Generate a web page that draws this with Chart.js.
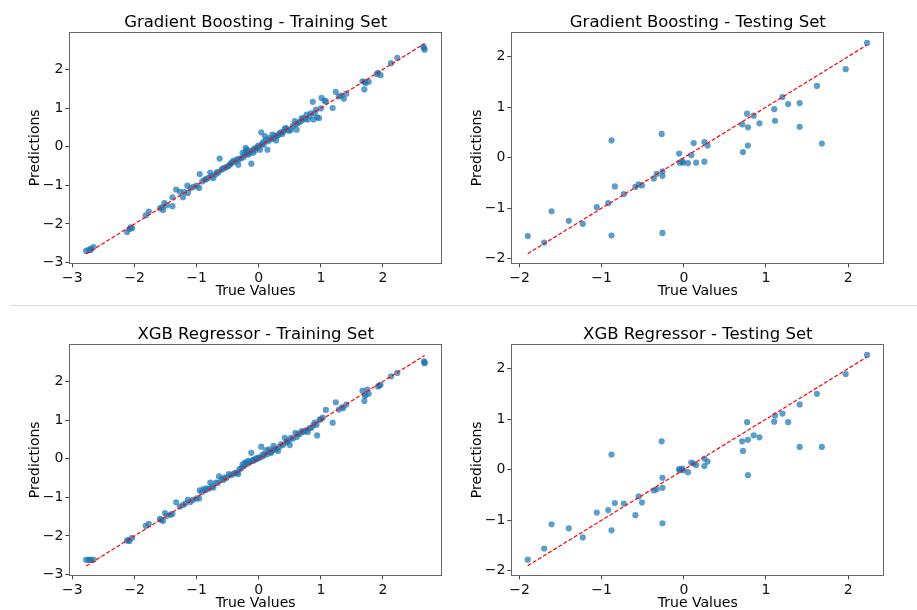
<!DOCTYPE html>
<html>
<head>
<meta charset="utf-8">
<script src="https://cdn.jsdelivr.net/npm/chart.js@4.4.1/dist/chart.umd.min.js"></script>
<style>
  html, body { margin:0; padding:0; background:#fff; width:917px; height:610px; overflow:hidden; }
  .pan { position:absolute; }
  #sep { position:absolute; left:10px; width:907px; top:305px; height:1px; background:#dedede; }
</style>
</head>
<body>
<canvas id="c1" class="pan" width="458" height="300" style="left:0px;top:0px;"></canvas>
<canvas id="c2" class="pan" width="459" height="300" style="left:458px;top:0px;"></canvas>
<div id="sep"></div>
<canvas id="c3" class="pan" width="458" height="300" style="left:0px;top:311.6px;"></canvas>
<canvas id="c4" class="pan" width="459" height="300" style="left:458px;top:311.6px;"></canvas>
<script>
// ---------------- DATA ----------------
const titles = [
  'Gradient Boosting - Training Set',
  'Gradient Boosting - Testing Set',
  'XGB Regressor - Training Set',
  'XGB Regressor - Testing Set'
];
const xLabel = 'True Values';
const yLabel = 'Predictions';

const trainTicks = [-3, -2, -1, 0, 1, 2];
const testTicks = [-2, -1, 0, 1, 2];
const trainXRange = [-3.05, 2.95];
const trainYRange = [-3.02, 2.96];
const testXRange = [-2.10, 2.44];
const testYRange = [-2.09, 2.48];

const gbTrainTrue = [-2.78,-2.74,-2.70,-2.66,-2.12,-2.08,-2.04,-1.82,-1.77,-1.59,-1.54,-1.52,-1.48,-1.39,-1.39,-1.33,-1.27,-1.22,-1.15,-1.14,-1.10,
  -1.00,-0.96,-0.95,-0.91,-0.87,-0.81,-0.78,-0.73,-0.69,-0.65,-0.63,-0.60,-0.55,-0.49,-0.47,-0.43,-0.41,
  -0.33,-0.32,-0.26,-0.25,-0.21,-0.21,-0.19,-0.17,-0.14,-0.12,-0.09,-0.06,-0.04,-0.01,
  0.02,0.04,0.07,0.10,0.12,0.14,0.18,0.22,0.26,0.28,
  0.34,0.38,0.42,0.44,0.49,0.52,0.58,0.61,0.63,0.69,0.72,0.77,0.79,0.82,0.87,0.88,0.92,0.94,0.97,
  1.01,1.06,1.08,1.19,1.24,1.29,1.37,1.41,1.67,1.70,1.72,1.77,1.92,1.96,2.13,2.23,2.65,2.67,
  -2.71,-2.06,-1.56,-1.20,-1.05,-0.85,-0.76,-0.67,-0.58,-0.52,-0.45,-0.38,-0.35,-0.29,-0.23,-0.18,-0.15,-0.10,-0.07,0.00,
  0.05,0.08,0.15,0.20,0.24,0.30,0.32,0.36,0.40,0.46,0.55,0.60,0.66,0.70,0.75,0.84,0.90,1.00,1.33,1.71,1.90,2.66];
const gbTrainPred = [-2.70,-2.67,-2.64,-2.60,-2.21,-2.13,-2.11,-1.78,-1.68,-1.60,-1.64,-1.46,-1.52,-1.54,-1.31,-1.11,-1.17,-1.31,-1.01,-1.20,-1.08,
  -1.01,-1.07,-0.71,-0.90,-0.86,-0.81,-0.67,-0.81,-0.71,-0.67,-0.31,-0.60,-0.55,-0.51,-0.47,-0.41,-0.36,
  -0.47,-0.33,-0.16,-0.28,-0.03,-0.12,-0.08,-0.21,-0.12,-0.44,-0.16,-0.10,-0.03,0.03,
  -0.08,0.37,0.12,0.27,0.18,-0.08,0.22,0.31,0.27,0.16,
  0.35,0.33,0.47,0.48,0.41,0.44,0.66,0.44,0.61,0.73,0.74,0.83,0.70,0.79,1.16,0.70,0.96,0.76,0.74,
  1.26,1.19,1.17,1.00,1.42,1.30,1.24,1.37,1.69,1.48,1.65,1.68,1.91,1.85,2.16,2.30,2.59,2.51,
  -2.68,-2.09,-1.57,-1.18,-1.04,-0.84,-0.76,-0.66,-0.57,-0.53,-0.44,-0.39,-0.33,-0.30,-0.22,-0.17,-0.17,-0.09,-0.05,-0.01,
  0.06,0.05,0.14,0.19,0.22,0.29,0.30,0.37,0.39,0.44,0.54,0.58,0.64,0.68,0.72,0.86,0.87,0.99,1.32,1.68,1.88,2.55];

const xgbTrainTrue = [-2.78,-2.74,-2.70,-2.66,-2.12,-2.08,-2.04,-1.82,-1.77,-1.59,-1.54,-1.51,-1.48,-1.39,-1.33,-1.27,-1.22,-1.14,-1.10,
  -1.00,-0.96,-0.95,-0.89,-0.84,-0.78,-0.73,-0.69,-0.64,-0.60,-0.55,-0.48,-0.41,-0.33,-0.31,-0.26,-0.22,-0.20,-0.17,-0.12,
  -0.09,-0.05,-0.01,0.04,0.07,0.12,0.17,0.20,0.24,0.28,0.31,0.36,0.42,0.46,0.50,0.52,0.59,0.63,0.69,0.74,0.79,0.85,0.90,
  0.93,0.94,0.98,1.03,1.08,1.19,1.24,1.29,1.36,1.41,1.67,1.70,1.72,1.75,1.77,1.92,1.96,2.13,2.23,2.66,2.67,
  -2.72,-2.10,-1.57,-1.42,-1.18,-1.06,-0.92,-0.86,-0.80,-0.75,-0.66,-0.57,-0.52,-0.45,-0.38,-0.35,-0.28,-0.24,-0.18,-0.14,
  -0.10,-0.07,-0.03,0.01,0.05,0.09,0.14,0.18,0.22,0.26,0.33,0.39,0.44,0.48,0.55,0.61,0.66,0.71,0.77,0.82,0.88,1.00,1.34,1.71,1.94,2.67];
const xgbTrainPred = [-2.62,-2.62,-2.62,-2.62,-2.12,-2.13,-2.05,-1.74,-1.69,-1.56,-1.61,-1.41,-1.48,-1.43,-1.13,-1.24,-1.20,-1.07,-1.12,
  -1.03,-1.03,-0.82,-0.79,-0.77,-0.62,-0.75,-0.62,-0.46,-0.53,-0.49,-0.40,-0.40,-0.40,-0.27,-0.15,-0.10,-0.10,-0.06,0.15,
  -0.03,0.00,0.03,0.31,0.11,0.22,0.24,0.15,0.33,0.24,0.20,0.37,0.54,0.46,0.35,0.54,0.67,0.63,0.71,0.71,0.69,0.80,0.93,
  0.88,0.60,1.01,1.06,1.26,0.93,1.46,1.27,1.31,1.40,1.76,1.49,1.66,1.79,1.68,1.87,1.91,2.13,2.22,2.52,2.47,
  -2.62,-2.11,-1.59,-1.45,-1.16,-1.07,-0.87,-0.82,-0.78,-0.72,-0.63,-0.55,-0.50,-0.43,-0.37,-0.36,-0.25,-0.19,-0.13,-0.09,
  -0.06,-0.04,-0.01,0.02,0.05,0.09,0.12,0.17,0.21,0.25,0.30,0.35,0.42,0.45,0.52,0.56,0.64,0.69,0.74,0.79,0.87,1.02,1.33,1.62,1.89,2.49];

const testTrue = [-1.90,-1.70,-1.61,-1.40,-1.23,-1.06,-0.92,-0.88,-0.88,-0.84,-0.73,-0.59,-0.55,-0.51,-0.365,-0.33,-0.27,-0.26,-0.26,-0.26,
  -0.057,-0.05,-0.02,-0.01,0.05,0.09,0.12,0.15,0.25,0.25,0.29,0.71,0.72,0.77,0.78,0.78,0.85,0.92,1.10,1.11,1.20,1.27,1.41,1.41,1.62,1.68,1.97,2.23];
const gbTestPred = [-1.55,-1.68,-1.06,-1.25,-1.31,-0.98,-0.90,0.34,-1.54,-0.57,-0.72,-0.58,-0.53,-0.55,-0.41,-0.32,0.47,-0.27,-0.36,-1.49,
  0.08,-0.10,-0.07,-0.10,-0.11,0.05,0.29,-0.10,0.31,-0.08,0.24,0.66,0.11,0.87,0.60,0.24,0.83,0.68,0.96,0.73,1.20,1.06,1.08,0.61,1.42,0.28,1.75,2.27];
const xgbTestPred = [-1.78,-1.56,-1.08,-1.16,-1.34,-0.85,-0.80,0.30,-1.20,-0.66,-0.67,-0.90,-0.53,-0.65,-0.41,-0.39,0.56,-0.16,-0.36,-1.06,
  0.01,-0.01,0.02,-0.01,-0.05,0.14,0.12,0.09,0.22,0.07,0.16,0.56,0.37,0.94,0.59,-0.11,0.68,0.64,0.95,1.07,1.11,0.94,1.29,0.45,1.50,0.45,1.89,2.27];

// ---------------- RENDER ----------------
const FONT = '"DejaVu Sans", "Liberation Sans", sans-serif';
const pointColor = 'rgba(31,119,180,0.72)';

const frame = {
  id: 'frame',
  afterDatasetsDraw(chart) {
    const a = chart.chartArea, ctx = chart.ctx;
    ctx.save();
    ctx.strokeStyle = '#666';
    ctx.lineWidth = 1;
    ctx.strokeRect(Math.round(a.left) + 0.5, Math.round(a.top) + 0.5,
                   Math.round(a.right - a.left) - 1, Math.round(a.bottom - a.top));
    ctx.restore();
  }
};

function fmt(v) { return String(v).replace('-', '\u2212'); }

function makePanel(id, title, xs, ys, xr, yr, ticks, yW, padR, yTitlePad) {
  const pts = xs.map((x, i) => ({ x: x, y: ys[i] }));
  const lo = Math.min(...xs), hi = Math.max(...xs);
  new Chart(document.getElementById(id), {
    type: 'scatter',
    data: {
      datasets: [
        { data: [{ x: lo, y: lo }, { x: hi, y: hi }], showLine: true, borderColor: '#ff0000',
          borderWidth: 1.2, borderDash: [4, 2], pointRadius: 0, order: 0 },
        { data: pts, backgroundColor: pointColor, borderWidth: 0, pointRadius: 3.1, order: 1 }
      ]
    },
    options: {
      responsive: false, animation: false, devicePixelRatio: 1,
      layout: { padding: { left: 0, right: padR, top: 0, bottom: 0 } },
      plugins: {
        legend: { display: false }, tooltip: { enabled: false },
        title: { display: true, text: title, fullSize: false, color: '#000',
                 font: { family: FONT, size: 16.5, weight: 'normal' }, padding: { top: 12.5, bottom: 0 } }
      },
      scales: {
        x: {
          type: 'linear', min: xr[0], max: xr[1],
          afterBuildTicks: s => { s.ticks = ticks.filter(t => t >= xr[0] && t <= xr[1]).map(v => ({ value: v })); },
          afterFit: s => { s.height = 36.7; },
          ticks: { color: '#111', font: { family: FONT, size: 14 }, padding: 3, maxRotation: 0, autoSkip: false, callback: fmt },
          grid: { drawOnChartArea: false, drawTicks: true, tickLength: 4, color: '#444' },
          border: { display: false },
          title: { display: true, text: xLabel, color: '#000', font: { family: FONT, size: 14 }, padding: { top: 0, bottom: 0 } }
        },
        y: {
          type: 'linear', min: yr[0], max: yr[1],
          afterBuildTicks: s => { s.ticks = ticks.filter(t => t >= yr[0] && t <= yr[1]).map(v => ({ value: v })); },
          afterFit: s => { s.width = yW; },
          ticks: { color: '#111', font: { family: FONT, size: 14 }, padding: 2, autoSkip: false, callback: fmt },
          grid: { drawOnChartArea: false, drawTicks: true, tickLength: 4, color: '#444' },
          border: { display: false },
          title: { display: true, text: yLabel, color: '#000', font: { family: FONT, size: 14 }, padding: { top: yTitlePad, bottom: 0 } }
        }
      }
    },
    plugins: [frame]
  });
}

makePanel('c1', titles[0], gbTrainTrue, gbTrainPred, trainXRange, trainYRange, trainTicks, 69.3, 16, 27);
makePanel('c2', titles[1], testTrue, gbTestPred, testXRange, testYRange, testTicks, 53.3, 32.7, 10.9);
makePanel('c3', titles[2], xgbTrainTrue, xgbTrainPred, trainXRange, trainYRange, trainTicks, 69.3, 16, 27);
makePanel('c4', titles[3], testTrue, xgbTestPred, testXRange, testYRange, testTicks, 53.3, 32.7, 10.9);
</script>
</body>
</html>
